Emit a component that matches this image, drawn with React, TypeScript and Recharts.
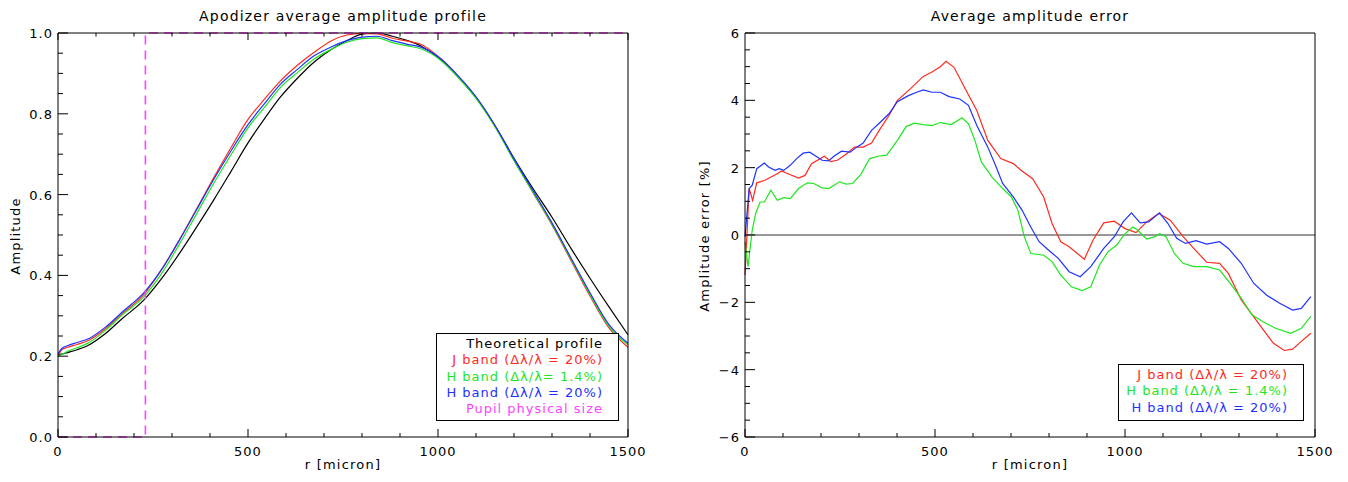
import React from 'react';
import { LineChart, Line, XAxis, YAxis, ReferenceLine } from 'recharts';

const FONT = '"DejaVu Sans", sans-serif';
const RED = '#ff2a1e';
const GREEN = '#1ee61e';
const BLUE = '#1e32ff';
const MAGENTA = '#ff44ff';

// left panel: average amplitude profile
const rGrid = [0, 10, 25, 50, 80, 125, 170, 225, 275, 320, 365, 410, 455, 500, 545, 585, 630, 675, 720, 760, 800, 840, 880, 920, 955, 1005, 1055, 1105, 1155, 1200, 1250, 1300, 1350, 1400, 1450, 1500];
const theory = [0.203, 0.205, 0.209, 0.216, 0.227, 0.256, 0.294, 0.338, 0.395, 0.455, 0.520, 0.587, 0.657, 0.728, 0.790, 0.841, 0.888, 0.929, 0.960, 0.981, 0.997, 1.000, 0.992, 0.981, 0.968, 0.936, 0.889, 0.834, 0.763, 0.690, 0.615, 0.544, 0.467, 0.393, 0.322, 0.253];
const jAmp = [0.200, 0.216, 0.222, 0.229, 0.239, 0.268, 0.306, 0.352, 0.418, 0.489, 0.565, 0.642, 0.716, 0.786, 0.838, 0.881, 0.920, 0.953, 0.981, 0.995, 0.999, 0.998, 0.987, 0.980, 0.972, 0.938, 0.890, 0.834, 0.762, 0.686, 0.605, 0.525, 0.437, 0.349, 0.270, 0.222];
const hNarrowAmp = [0.200, 0.204, 0.212, 0.221, 0.233, 0.264, 0.303, 0.346, 0.408, 0.478, 0.553, 0.628, 0.698, 0.765, 0.818, 0.865, 0.902, 0.936, 0.960, 0.977, 0.986, 0.988, 0.976, 0.968, 0.961, 0.934, 0.888, 0.832, 0.760, 0.684, 0.606, 0.527, 0.440, 0.353, 0.274, 0.228];
const hWideAmp = [0.205, 0.219, 0.226, 0.234, 0.243, 0.272, 0.310, 0.356, 0.418, 0.488, 0.563, 0.638, 0.708, 0.773, 0.827, 0.873, 0.910, 0.944, 0.966, 0.981, 0.990, 0.992, 0.981, 0.972, 0.965, 0.938, 0.892, 0.836, 0.763, 0.688, 0.610, 0.530, 0.443, 0.357, 0.278, 0.232];
const pupilR = [0, 230, 230, 1500];
const pupilAmp = [0, 0, 1, 1];

// right panel: average amplitude error [%]
const jR = [0, 11, 20, 31, 51, 85, 96, 113, 141, 158, 175, 209, 226, 243, 266, 288, 311, 333, 356, 379, 401, 435, 469, 492, 514, 529, 550, 582, 610, 639, 673, 706, 729, 757, 786, 808, 831, 853, 893, 916, 944, 972, 1000, 1029, 1057, 1089, 1119, 1153, 1181, 1215, 1249, 1272, 1306, 1351, 1390, 1419, 1441, 1464, 1489];
const jErr = [-1.19, 1.38, 1.03, 1.55, 1.62, 1.82, 1.90, 1.82, 1.69, 1.77, 2.12, 2.34, 2.18, 2.22, 2.40, 2.61, 2.61, 2.73, 3.16, 3.55, 4.0, 4.34, 4.71, 4.84, 5.0, 5.16, 4.98, 4.29, 3.70, 2.81, 2.27, 2.12, 1.90, 1.67, 1.13, 0.34, -0.2, -0.35, -0.72, -0.15, 0.36, 0.41, 0.19, 0.07, 0.39, 0.64, 0.44, -0.05, -0.40, -0.81, -0.84, -1.14, -1.93, -2.62, -3.21, -3.43, -3.39, -3.16, -2.92];
const gR = [0, 8, 19, 28, 40, 51, 68, 85, 102, 119, 141, 164, 181, 203, 220, 249, 266, 283, 305, 328, 350, 373, 401, 424, 446, 469, 492, 514, 543, 571, 588, 605, 622, 650, 678, 701, 718, 735, 752, 786, 808, 831, 859, 887, 910, 933, 955, 978, 1000, 1021, 1034, 1057, 1079, 1091, 1108, 1130, 1153, 1181, 1215, 1249, 1277, 1306, 1334, 1362, 1396, 1436, 1464, 1489];
const gErr = [-0.2, -0.94, 0.14, 0.64, 0.98, 0.98, 1.33, 1.03, 1.11, 1.08, 1.38, 1.55, 1.53, 1.40, 1.38, 1.58, 1.51, 1.53, 1.80, 2.27, 2.34, 2.37, 2.81, 3.22, 3.32, 3.28, 3.25, 3.34, 3.28, 3.48, 3.30, 2.81, 2.17, 1.72, 1.38, 1.13, 0.74, -0.05, -0.55, -0.60, -0.79, -1.19, -1.54, -1.65, -1.54, -0.89, -0.50, -0.30, 0.04, 0.24, 0.14, -0.12, -0.05, 0.04, -0.05, -0.55, -0.84, -0.94, -0.94, -1.04, -1.44, -1.88, -2.37, -2.57, -2.77, -2.92, -2.77, -2.42];
const bR = [0, 11, 19, 31, 51, 62, 79, 90, 102, 119, 136, 153, 170, 187, 203, 220, 234, 254, 277, 294, 311, 333, 356, 379, 401, 430, 452, 469, 492, 514, 537, 565, 588, 610, 639, 661, 678, 706, 729, 752, 774, 797, 825, 853, 882, 910, 944, 972, 995, 1017, 1040, 1062, 1091, 1113, 1136, 1159, 1187, 1215, 1249, 1272, 1306, 1339, 1373, 1407, 1441, 1464, 1489];
const bErr = [-0.05, 1.38, 1.48, 1.97, 2.14, 2.02, 1.92, 1.97, 1.92, 2.07, 2.27, 2.43, 2.46, 2.34, 2.22, 2.20, 2.34, 2.49, 2.46, 2.61, 2.73, 3.11, 3.35, 3.60, 3.96, 4.14, 4.24, 4.31, 4.24, 4.24, 4.11, 4.04, 3.85, 3.25, 2.61, 2.02, 1.53, 1.13, 0.74, 0.24, -0.2, -0.43, -0.70, -1.09, -1.24, -0.94, -0.40, -0.05, 0.39, 0.66, 0.36, 0.39, 0.66, 0.34, -0.10, -0.25, -0.17, -0.27, -0.20, -0.40, -0.84, -1.44, -1.79, -2.03, -2.23, -2.18, -1.83];

// ticks
const rTicks = [0, 100, 200, 300, 400, 500, 600, 700, 800, 900, 1000, 1100, 1200, 1300, 1400, 1500];
const ampTicks = [0, 0.05, 0.1, 0.15, 0.2, 0.25, 0.3, 0.35, 0.4, 0.45, 0.5, 0.55, 0.6, 0.65, 0.7, 0.75, 0.8, 0.85, 0.9, 0.95, 1];
const errTicks = [-6, -5.5, -5, -4.5, -4, -3.5, -3, -2.5, -2, -1.5, -1, -0.5, 0, 0.5, 1, 1.5, 2, 2.5, 3, 3.5, 4, 4.5, 5, 5.5, 6];

const leftData = rGrid.map((r, i) => ({ r, theory: theory[i], j: jAmp[i], hn: hNarrowAmp[i], hw: hWideAmp[i] }));
const pupilData = pupilR.map((r, i) => ({ r, p: pupilAmp[i] }));
const toSeries = (rs: number[], vs: number[]) => rs.map((r, i) => ({ r, v: vs[i] }));
const jData = toSeries(jR, jErr);
const gData = toSeries(gR, gErr);
const bData = toSeries(bR, bErr);

const near = (a: number) => Math.abs(a - Math.round(a)) < 1e-6;
const rMajor = (v: number) => near(v / 500);
const ampMajor = (v: number) => near(v * 5);
const errMajor = (v: number) => near(v / 2);

type Side = 'bottom' | 'top' | 'left' | 'right';

const makeTick = (side: Side, isMajor: (v: number) => boolean, majorLen: number, minorLen: number, fmt?: (v: number) => string) => (props: any) => {
  const { x, y, payload } = props;
  const v = payload.value;
  const major = isMajor(v);
  const len = major ? majorLen : minorLen;
  let x2 = x, y2 = y;
  if (side === 'bottom') y2 = y - len;
  if (side === 'top') y2 = y + len;
  if (side === 'left') x2 = x + len;
  if (side === 'right') x2 = x - len;
  let label = null;
  if (fmt && major) {
    if (side === 'bottom') {
      label = <text x={x} y={y + 19} textAnchor="middle" fontSize={13} letterSpacing={1} fontFamily={FONT} fill="#000">{fmt(v)}</text>;
    } else {
      label = <text x={x - 5} y={y + 5} textAnchor="end" fontSize={13} letterSpacing={1} fontFamily={FONT} fill="#000">{fmt(v)}</text>;
    }
  }
  return (
    <g>
      <line x1={x} y1={y} x2={x2} y2={y2} stroke="#000" strokeWidth={1} />
      {label}
    </g>
  );
};

const axisLine = { stroke: '#000', strokeWidth: 1 };
const noTick = { tickLine: false, tickSize: 0, tickMargin: 0, interval: 0 as const, axisLine };

const txt: React.CSSProperties = { position: 'absolute', fontFamily: FONT, fontSize: 14, color: '#000', whiteSpace: 'nowrap', letterSpacing: 1.2 };

const LegendBox = ({ left, top, width, height, rows }: { left: number; top: number; width: number; height: number; rows: [string, string][] }) => (
  <div style={{ position: 'absolute', left, top, width, height, border: '1px solid #000', boxSizing: 'border-box', background: '#fff', paddingRight: 15, paddingTop: 2 }}>
    {rows.map(([label, color]) => (
      <div key={label} style={{ textAlign: 'right', color, fontFamily: FONT, fontSize: 13, lineHeight: '16.3px', letterSpacing: 1, whiteSpace: 'pre' }}>{label}</div>
    ))}
  </div>
);

export default function App() {
  return (
    <div style={{ position: 'relative', width: 1348, height: 482, background: '#fff', margin: -8 }}>
      <div style={{ position: 'absolute', left: 0, top: 0 }}>
        <LineChart width={674} height={482} data={leftData} margin={{ top: 23, right: 36, bottom: 15, left: 18 }}>
          <XAxis xAxisId="top" orientation="top" type="number" dataKey="r" domain={[0, 1500]} ticks={rTicks} height={10} {...noTick} tick={makeTick('top', rMajor, 7, 3.5)} />
          <YAxis yAxisId="right" orientation="right" type="number" domain={[0, 1]} ticks={ampTicks} width={10} {...noTick} tick={makeTick('right', ampMajor, 10, 5)} />
          <XAxis type="number" dataKey="r" domain={[0, 1500]} ticks={rTicks} height={30} {...noTick} tick={makeTick('bottom', rMajor, 8, 4, (v) => String(v))} />
          <YAxis type="number" domain={[0, 1]} ticks={ampTicks} width={40} {...noTick} tick={makeTick('left', ampMajor, 10, 5, (v) => v.toFixed(1))} />
          <Line dataKey="theory" stroke="#000" strokeWidth={1.2} dot={false} isAnimationActive={false} type="monotone" />
          <Line dataKey="j" stroke={RED} strokeWidth={1.2} dot={false} isAnimationActive={false} type="monotone" />
          <Line dataKey="hn" stroke={GREEN} strokeWidth={1.2} dot={false} isAnimationActive={false} type="monotone" />
          <Line dataKey="hw" stroke={BLUE} strokeWidth={1.2} dot={false} isAnimationActive={false} type="monotone" />
          <Line data={pupilData} dataKey="p" stroke={MAGENTA} strokeWidth={1.6} strokeDasharray="9 6" dot={false} isAnimationActive={false} type="linear" />
        </LineChart>
      </div>
      <div style={{ position: 'absolute', left: 674, top: 0 }}>
        <LineChart width={674} height={482} margin={{ top: 23, right: 23, bottom: 15, left: 31 }}>
          <XAxis xAxisId="top" orientation="top" type="number" dataKey="r" domain={[0, 1500]} ticks={rTicks} height={10} {...noTick} tick={makeTick('top', rMajor, 7, 3.5)} />
          <YAxis yAxisId="right" orientation="right" type="number" domain={[-6, 6]} ticks={errTicks} width={10} {...noTick} tick={makeTick('right', errMajor, 10, 5)} />
          <XAxis type="number" dataKey="r" domain={[0, 1500]} ticks={rTicks} height={30} {...noTick} tick={makeTick('bottom', rMajor, 8, 4, (v) => String(v))} />
          <YAxis type="number" domain={[-6, 6]} ticks={errTicks} width={40} {...noTick} tick={makeTick('left', errMajor, 10, 5, (v) => (v < 0 ? '\u2212' + Math.abs(v) : String(v)))} />
          <ReferenceLine y={0} stroke="#333" strokeWidth={1.2} />
          <Line data={jData} dataKey="v" stroke={RED} strokeWidth={1.2} dot={false} isAnimationActive={false} type="linear" />
          <Line data={gData} dataKey="v" stroke={GREEN} strokeWidth={1.2} dot={false} isAnimationActive={false} type="linear" />
          <Line data={bData} dataKey="v" stroke={BLUE} strokeWidth={1.2} dot={false} isAnimationActive={false} type="linear" />
        </LineChart>
      </div>

      <div style={{ ...txt, left: 343, top: 8, transform: 'translateX(-50%)' }}>Apodizer average amplitude profile</div>
      <div style={{ ...txt, left: 1030, top: 8, transform: 'translateX(-50%)' }}>Average amplitude error</div>
      <div style={{ ...txt, fontSize: 13, left: 343, top: 457, transform: 'translateX(-50%)' }}>r [micron]</div>
      <div style={{ ...txt, fontSize: 13, left: 1030, top: 457, transform: 'translateX(-50%)' }}>r [micron]</div>
      <div style={{ ...txt, fontSize: 13, left: 15, top: 236, transform: 'translate(-50%, -50%) rotate(-90deg)' }}>Amplitude</div>
      <div style={{ ...txt, fontSize: 13, left: 704, top: 236, transform: 'translate(-50%, -50%) rotate(-90deg)' }}>Amplitude error [%]</div>

      <LegendBox left={436} top={333} width={183} height={88} rows={[
        ['Theoretical profile', '#000'],
        ['J band (\u0394\u03bb/\u03bb = 20%)', RED],
        ['H band (\u0394\u03bb/\u03bb= 1.4%)', GREEN],
        ['H band (\u0394\u03bb/\u03bb = 20%)', BLUE],
        ['Pupil physical size', MAGENTA],
      ]} />
      <LegendBox left={1118} top={364} width={186} height={57} rows={[
        ['J band (\u0394\u03bb/\u03bb = 20%)', RED],
        ['H band (\u0394\u03bb/\u03bb = 1.4%)', GREEN],
        ['H band (\u0394\u03bb/\u03bb = 20%)', BLUE],
      ]} />
    </div>
  );
}
